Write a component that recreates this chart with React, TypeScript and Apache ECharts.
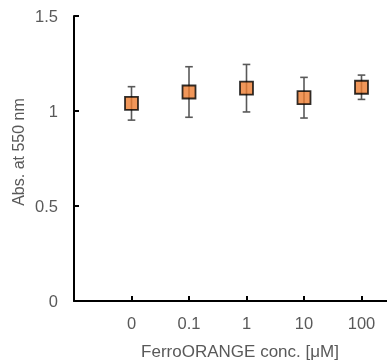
import React, { useEffect, useRef } from "react";
import * as echarts from "echarts";

const categories = ["", "0", "0.1", "1", "10", "100", ""];
const seriesCats = ["0", "0.1", "1", "10", "100"];
const means = [1.04, 1.1, 1.12, 1.07, 1.125];
const errors = [0.088, 0.133, 0.125, 0.107, 0.064];
const yTicks = [0, 0.5, 1, 1.5];
const xTitle = "FerroORANGE conc. [μM]";
const yTitle = "Abs. at 550 nm";

export default function App() {
  const ref = useRef<HTMLDivElement>(null);
  useEffect(() => {
    const chart = echarts.init(ref.current!, null, { renderer: "svg" });
    const txt = "#595959";
    const font = "Liberation Sans, Arial, sans-serif";
    chart.setOption({
      animation: false,
      grid: { left: 74, top: 16, bottom: 61, width: 345, outerBoundsMode: "none", containLabel: false },
      xAxis: {
        type: "category",
        data: categories,
        boundaryGap: false,
        axisLine: { lineStyle: { color: "#000", width: 2 } },
        axisTick: {
          inside: true,
          length: 5,
          lineStyle: { color: "#000", width: 2 },
          interval: (i: number, v: string) => v !== "",
        },
        axisLabel: {
          color: txt,
          fontSize: 16.5,
          fontFamily: font,
          margin: 13,
          interval: 0,
        },
        splitLine: { show: false },
      },
      yAxis: {
        type: "value",
        min: 0,
        max: 1.5,
        interval: 0.5,
        axisLine: { show: true, lineStyle: { color: "#000", width: 2 } },
        axisTick: { show: true, inside: true, length: 5, lineStyle: { color: "#000", width: 2 } },
        axisLabel: {
          color: txt,
          fontSize: 16.5,
          fontFamily: font,
          margin: 16,
          formatter: (v: number) => (yTicks.includes(v) ? String(v) : ""),
        },
        splitLine: { show: false },
      },
      graphic: [
        {
          type: "text",
          x: 240,
          y: 351,
          style: {
            text: xTitle,
            fill: txt,
            font: `17px ${font}`,
            align: "center",
            verticalAlign: "middle",
          },
        },
        {
          type: "text",
          x: 18,
          y: 152,
          rotation: Math.PI / 2,
          style: {
            text: yTitle,
            fill: txt,
            font: `16px ${font}`,
            align: "center",
            verticalAlign: "middle",
          },
        },
      ],
      series: [
        {
          type: "custom",
          z: 1,
          data: seriesCats.map((c, i) => [c, means[i] - errors[i], means[i] + errors[i]]),
          renderItem: (params: any, api: any) => {
            const lo = api.coord([api.value(0), api.value(1)]);
            const hi = api.coord([api.value(0), api.value(2)]);
            const half = 3.8;
            const style = { stroke: "#595959", lineWidth: 1.6 };
            return {
              type: "group",
              children: [
                { type: "line", shape: { x1: lo[0], y1: lo[1], x2: hi[0], y2: hi[1] }, style },
                { type: "line", shape: { x1: lo[0] - half, y1: lo[1], x2: lo[0] + half, y2: lo[1] }, style },
                { type: "line", shape: { x1: hi[0] - half, y1: hi[1], x2: hi[0] + half, y2: hi[1] }, style },
              ],
            };
          },
        },
        {
          type: "scatter",
          z: 2,
          symbol: "rect",
          symbolSize: 13,
          data: seriesCats.map((c, i) => [c, means[i]]),
          itemStyle: { color: "#ED7D31", borderColor: "#000", borderWidth: 1.8 },
        },
      ],
    });
    return () => chart.dispose();
  }, []);
  return (
    <div style={{ position: "fixed", left: 0, top: 0, width: 387, height: 362, overflow: "hidden" }}>
      <div ref={ref} style={{ width: 387, height: 362 }} />
    </div>
  );
}
